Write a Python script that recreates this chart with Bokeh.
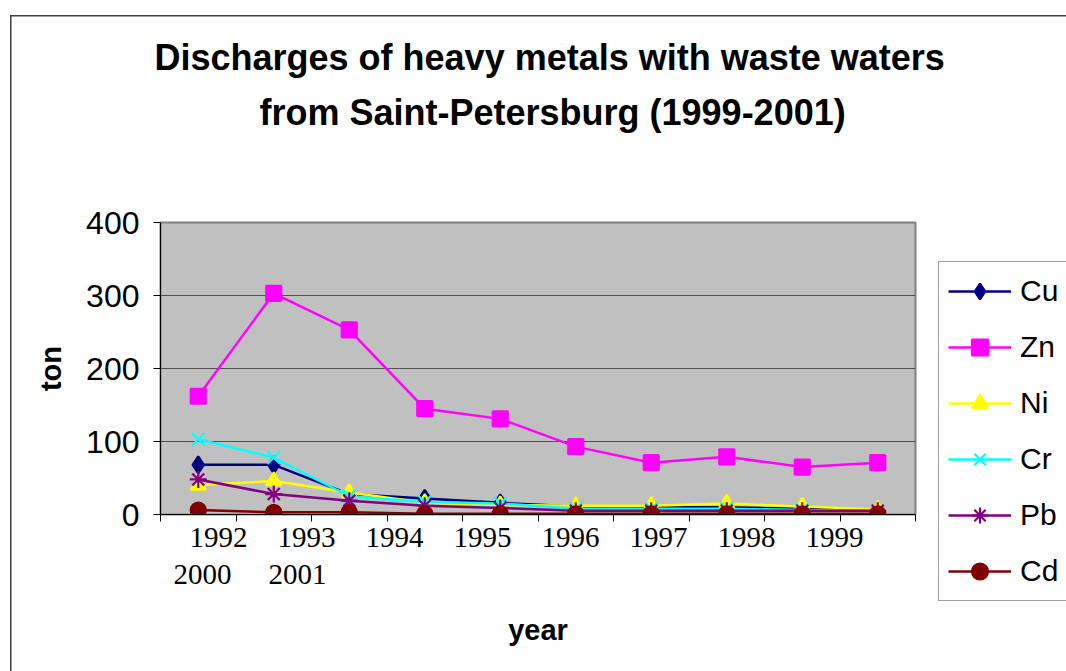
from bokeh.plotting import figure
from bokeh.models import (Range1d, FixedTicker, Legend, LegendItem, Title, LinearAxis)
from bokeh.embed import file_html
from bokeh.resources import INLINE

# ---------------- data ----------------
years = ["1992", "1993", "1994", "1995", "1996", "1997", "1998", "1999", "2000", "2001"]
cu = [68, 68, 28, 22, 16, 11, 10, 10, 8, 6]
zn = [162, 303, 253, 145, 131, 93, 71, 79, 65, 71]
ni = [40, 46, 30, 16, 13, 12, 12, 15, 11, 7]
cr = [103, 78, 25, 17, 15, 8, 8, 8, 6, 5]
pb = [48, 28, 19, 12, 9, 5, 5, 5, 5, 5]
cd = [6, 3, 3, 1, 1, 1, 1, 1, 1, 1]
series_names = ["Cu", "Zn", "Ni", "Cr", "Pb", "Cd"]
series_values = [cu, zn, ni, cr, pb, cd]
y_ticks = [0, 100, 200, 300, 400]
tick_row1 = ["1992", "1993", "1994", "1995", "1996", "1997", "1998", "1999"]
tick_row2 = ["2000", "2001"]
title_lines = ["Discharges of heavy metals with  waste waters",
               "from Saint-Petersburg (1999-2001)"]

# ---------------- layout ----------------
W, H = 1066, 671
FL, FR, FT, FB = 160, 915, 222, 514   # plot-area edges in pixels
n = len(years)
YMAX = 400


def dx(px):
    return (px - FL) / (FR - FL) * n


styles = {
    "Cu": dict(color="#000080", marker="diamond", size=17),
    "Zn": dict(color="#FF00FF", marker="square", size=15),
    "Ni": dict(color="#FFFF00", marker="triangle", size=15),
    "Cr": dict(color="#00FFFF", marker="x", size=18),
    "Pb": dict(color="#800080", marker="asterisk", size=17),
    "Cd": dict(color="#800000", marker="circle", size=15),
}

p = figure(frame_width=FR - FL, frame_height=FB - FT,
           x_range=Range1d(0, n), y_range=Range1d(0, YMAX),
           output_backend="svg", toolbar_location=None,
           min_border_left=FL, min_border_right=W - FR,
           min_border_top=FT, min_border_bottom=H - FB)

p.background_fill_color = "#C0C0C0"
p.border_fill_color = None
p.outline_line_color = "#808080"
p.outline_line_width = 2
p.styles = {
    "background-color": "white",
    "background-image": "linear-gradient(#404040, #404040), linear-gradient(#404040, #404040)",
    "background-size": "1.5px 100%, 100% 1.5px",
    "background-position": "10px 15px, 10px 15px",
    "background-repeat": "no-repeat",
}

xa = p.below[0]   # main x axis (grab before adding other axes)

# spacer between plot area and title (invisible axis with one hidden tick)
spacer = LinearAxis(ticker=FixedTicker(ticks=[0]), major_label_overrides={0: ""},
                    axis_line_color=None,
                    major_tick_line_color=None, minor_tick_line_color=None,
                    major_tick_out=85, major_tick_in=0, minor_tick_out=0,
                    minor_tick_in=0, major_label_standoff=0)
p.add_layout(spacer, "above")

# title (two lines)
t2 = Title(text=title_lines[1], align="left", offset=99, text_font="Liberation Sans",
           text_font_style="bold", text_font_size="36px", text_color="black",
           standoff=10)
p.add_layout(t2, "above")
p.title.text = title_lines[0]
p.title.align = "left"
p.title.offset = -6
p.title.text_font = "Liberation Sans"
p.title.text_font_style = "bold"
p.title.text_font_size = "36px"
p.title.text_color = "black"
p.title.standoff = 13

# y axis
p.yaxis.ticker = FixedTicker(ticks=y_ticks)
p.yaxis.major_label_text_font = "Liberation Sans"
p.yaxis.major_label_text_font_size = "32px"
p.yaxis.major_label_text_color = "black"
p.yaxis.major_tick_out = 7
p.yaxis.major_tick_in = 0
p.yaxis.minor_tick_out = 0
p.yaxis.minor_tick_in = 0
p.yaxis.axis_line_color = "black"
p.yaxis.major_tick_line_color = "black"
p.yaxis.major_label_standoff = 14
p.yaxis.axis_label = "ton"
p.yaxis.axis_label_text_font = "Liberation Sans"
p.yaxis.axis_label_text_font_style = "bold"
p.yaxis.axis_label_text_font_size = "29px"
p.yaxis.axis_label_text_color = "black"
p.yaxis.axis_label_standoff = 16

# x axis: tick marks at category boundaries, Excel-style wrapped labels
row1_pos = [dx(218 + 88 * i) for i in range(len(tick_row1))]
row2_pos = [dx(202 + 95 * i) for i in range(len(tick_row2))]
xa.ticker = FixedTicker(ticks=row1_pos, minor_ticks=list(range(n + 1)))
xa.major_label_overrides = {pos: t for pos, t in zip(row1_pos, tick_row1)}
xa.major_tick_line_color = None
xa.major_tick_out = 7
xa.major_tick_in = 0
xa.minor_tick_line_color = "black"
xa.minor_tick_out = 7
xa.minor_tick_in = 0
xa.axis_line_color = "black"
xa.major_label_text_font = "Liberation Serif"
xa.major_label_text_font_size = "29px"
xa.major_label_text_color = "black"
xa.major_label_standoff = 6

xa2 = LinearAxis(ticker=FixedTicker(ticks=row2_pos),
                 major_label_overrides={pos: t for pos, t in zip(row2_pos, tick_row2)})
xa2.axis_line_color = None
xa2.major_tick_line_color = None
xa2.minor_tick_line_color = None
xa2.major_tick_out = 0
xa2.major_tick_in = 0
xa2.minor_tick_out = 0
xa2.minor_tick_in = 0
xa2.major_label_text_font = "Liberation Serif"
xa2.major_label_text_font_size = "29px"
xa2.major_label_text_color = "black"
xa2.major_label_standoff = 15
xa2.axis_label = "year"
xa2.axis_label_text_font = "Liberation Sans"
xa2.axis_label_text_font_style = "bold"
xa2.axis_label_text_font_size = "29px"
xa2.axis_label_text_color = "black"
xa2.axis_label_standoff = 27
p.add_layout(xa2, "below")

p.xgrid.grid_line_color = None
p.ygrid.ticker = FixedTicker(ticks=y_ticks)
p.ygrid.grid_line_color = "#505050"
p.ygrid.grid_line_width = 1.2

# series
xs = [i + 0.5 for i in range(n)]
items = []
for name, vals in zip(series_names, series_values):
    st = styles[name]
    rl = p.line(xs, vals, line_color=st["color"], line_width=2.5)
    rs = p.scatter(xs, vals, marker=st["marker"], size=st["size"],
                   fill_color=st["color"], line_color=st["color"], line_width=2.2)
    items.append(LegendItem(label=name, renderers=[rl, rs]))

legend = Legend(items=items, location=(23, -87), orientation="vertical")
legend.label_text_font = "Liberation Sans"
legend.label_text_font_size = "30px"
legend.label_text_color = "black"
legend.glyph_width = 63
legend.glyph_height = 40
legend.label_standoff = 9
legend.label_width = 50
legend.spacing = 16
legend.padding = 9
legend.margin = 0
legend.border_line_color = "#404040"
legend.border_line_width = 1.5
legend.background_fill_color = "white"
legend.background_fill_alpha = 1
p.add_layout(legend, "right")

open("out.html", "w").write(file_html(p, INLINE))
